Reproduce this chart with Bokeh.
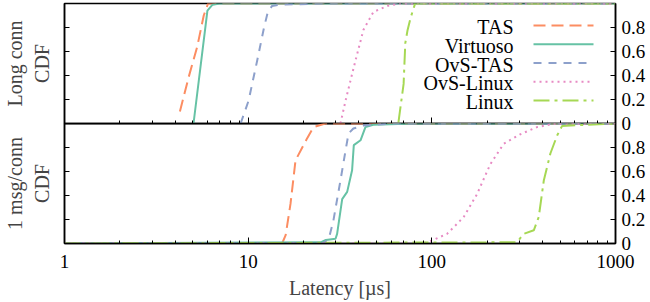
from bokeh.plotting import figure
from bokeh.models import Range1d, FixedTicker, LinearAxis, Label, Arrow
from bokeh.layouts import column
from bokeh.embed import file_html
from bokeh.resources import INLINE

# ---------------- data ----------------
series_names = ["TAS", "Virtuoso", "OvS-TAS", "OvS-Linux", "Linux"]
colors = ["#fc8d62", "#66c2a5", "#8da0cb", "#e78ac3", "#a6d854"]
dashes = ["12 6", "solid", "8 7", "2 4", "16 5 3 5"]

# Long conn (top panel)
tas_long_x = [4.25, 4.75, 5.28, 5.73, 6.05, 1000]
tas_long_y = [0.10, 0.39, 0.64, 0.90, 1.00, 1.00]
virt_long_x = [5.04, 6.0, 6.4, 7.0, 1000]
virt_long_y = [0.00, 0.94, 0.99, 1.00, 1.00]
ovstas_long_x = [9.1, 10.05, 11.2, 12.2, 12.8, 13.5, 15.0, 25.0, 1000]
ovstas_long_y = [0.00, 0.19, 0.525, 0.80, 0.93, 0.98, 0.99, 1.00, 1.00]
ovslinux_long_x = [31.8, 33.9, 37.6, 42.4, 48.1, 57.3, 67.5, 1000]
ovslinux_long_y = [0.00, 0.19, 0.47, 0.78, 0.93, 0.98, 1.00, 1.00]
linux_long_x = [65.8, 70.2, 71.7, 73.8, 76.6, 81.1, 1000]
linux_long_y = [0.01, 0.33, 0.67, 0.78, 0.88, 1.00, 1.00]

# 1 msg/conn (bottom panel)
tas_msg_x = [1, 15.3, 16.0, 17.0, 18.1, 18.5, 21.0, 22.7, 26.3, 1000]
tas_msg_y = [0.00, 0.00, 0.07, 0.33, 0.69, 0.72, 0.88, 0.97, 1.00, 1.00]
virt_msg_x = [1, 24.8, 26.5, 29.9, 30.5, 32.5, 34.6, 36.8, 37.6, 40.9, 43.5, 48.0, 80.0, 1000]
virt_msg_y = [0.00, 0.01, 0.03, 0.04, 0.08, 0.37, 0.43, 0.61, 0.82, 0.86, 0.97, 0.99, 1.00, 1.00]
ovstas_msg_x = [1, 25.5, 27.5, 29.1, 31.8, 33.9, 35.2, 37.4, 42.4, 60.0, 1000]
ovstas_msg_y = [0.00, 0.00, 0.04, 0.19, 0.525, 0.775, 0.917, 0.958, 0.983, 1.00, 1.00]
ovslinux_msg_x = [1, 90, 98.3, 121, 149, 176, 208, 246, 303, 374, 459, 1000]
ovslinux_msg_y = [0.00, 0.00, 0.02, 0.08, 0.22, 0.41, 0.66, 0.83, 0.91, 0.97, 0.997, 1.00]
linux_msg_x = [1, 291, 316, 359, 382, 407, 442, 481, 512, 1000]
linux_msg_y = [0.00, 0.01, 0.08, 0.11, 0.22, 0.525, 0.75, 0.90, 0.98, 1.00]

long_series = [(tas_long_x, tas_long_y), (virt_long_x, virt_long_y),
               (ovstas_long_x, ovstas_long_y), (ovslinux_long_x, ovslinux_long_y),
               (linux_long_x, linux_long_y)]
msg_series = [(tas_msg_x, tas_msg_y), (virt_msg_x, virt_msg_y),
              (ovstas_msg_x, ovstas_msg_y), (ovslinux_msg_x, ovslinux_msg_y),
              (linux_msg_x, linux_msg_y)]

x_ticks = [1, 10, 100, 1000]
x_tick_labels = ["1", "10", "100", "1000"]
x_minor = [m * d for d in (1, 10, 100) for m in range(2, 10)]
y_ticks = [0, 0.2, 0.4, 0.6, 0.8]
y_tick_labels = ["0", "0.2", "0.4", "0.6", "0.8"]
x_label = "Latency [µs]"
panel_labels = ["Long conn\nCDF", "1 msg/conn\nCDF"]

FONT = "Liberation Serif"
OVERLAP = 12
x_range = Range1d(1, 1000)


def make_panel(series, ylabel, bottom):
    p = figure(x_axis_type="log", x_range=x_range, y_range=Range1d(0, 1),
               frame_width=551, frame_height=120,
               min_border_left=64, min_border_right=33,
               min_border_top=0 if bottom else 3,
               min_border_bottom=OVERLAP,
               y_axis_location="right",
               output_backend="svg", toolbar_location=None)
    p.grid.visible = False
    p.outline_line_color = "black"
    p.outline_line_width = 1.5
    p.border_fill_color = None
    p.background_fill_color = None

    # x axis
    xa = p.xaxis[0]
    xa.ticker = FixedTicker(ticks=x_ticks, minor_ticks=x_minor)
    xa.major_tick_in = 6
    xa.major_tick_out = 0
    xa.minor_tick_in = 3
    xa.minor_tick_out = 0
    xa.axis_line_width = 1.5
    xa.major_label_text_font = FONT
    xa.major_label_text_font_size = "19px"
    xa.major_label_text_color = "black"
    if bottom:
        xa.major_label_overrides = {t: l for t, l in zip(x_ticks, x_tick_labels)}
        xa.major_label_standoff = 11
        xa.axis_label = x_label
        xa.axis_label_text_font = FONT
        xa.axis_label_text_font_size = "20px"
        xa.axis_label_text_font_style = "normal"
        xa.axis_label_standoff = 6
    else:
        xa.major_label_overrides = {t: "" for t in x_ticks}
        xa.major_label_standoff = 0

    # right y axis (labels)
    ya = p.yaxis[0]
    ya.ticker = FixedTicker(ticks=y_ticks)
    ya.major_label_overrides = {t: l for t, l in zip(y_ticks, y_tick_labels)}
    ya.major_tick_in = 5
    ya.major_tick_out = 0
    ya.minor_tick_in = 0
    ya.minor_tick_out = 0
    ya.axis_line_width = 1.5
    ya.major_label_text_font = FONT
    ya.major_label_text_font_size = "19px"
    ya.major_label_text_color = "black"
    ya.major_label_standoff = 6

    # left y axis (ticks + panel label)
    la = LinearAxis(ticker=FixedTicker(ticks=y_ticks),
                    major_label_overrides={t: "" for t in y_ticks},
                    major_label_standoff=0,
                    major_tick_in=5, major_tick_out=0,
                    minor_tick_in=0, minor_tick_out=0,
                    axis_line_width=1.5,
                    axis_label=ylabel, axis_label_text_font=FONT,
                    axis_label_text_font_size="20px",
                    axis_label_text_font_style="normal",
                    axis_label_standoff=12)
    p.add_layout(la, "left")

    for (xs, ys), c, d in zip(series, colors, dashes):
        p.line(xs, ys, line_color=c, line_width=2, line_dash=d)
    return p


p1 = make_panel(long_series, panel_labels[0], False)
p2 = make_panel(msg_series, panel_labels[1], True)

# legend (text left of sample line), in screen units of the top frame
leg_top = 98
leg_step = 18.75
for i, (name, c, d) in enumerate(zip(series_names, colors, dashes)):
    yy = leg_top - i * leg_step
    p1.add_layout(Label(x=449, y=yy - 1.5, x_units="screen", y_units="screen",
                        text=name, text_align="right", text_baseline="middle",
                        text_font=FONT, text_font_size="20px", text_color="black"))
    p1.add_layout(Arrow(end=None, x_start=469, y_start=yy, x_end=529, y_end=yy,
                        start_units="screen", end_units="screen",
                        line_color=c, line_width=2, line_dash=d))

p2.margin = (-OVERLAP, 0, 0, 0)
layout = column(p1, p2, spacing=0)

open("out.html", "w").write(file_html(layout, INLINE))
